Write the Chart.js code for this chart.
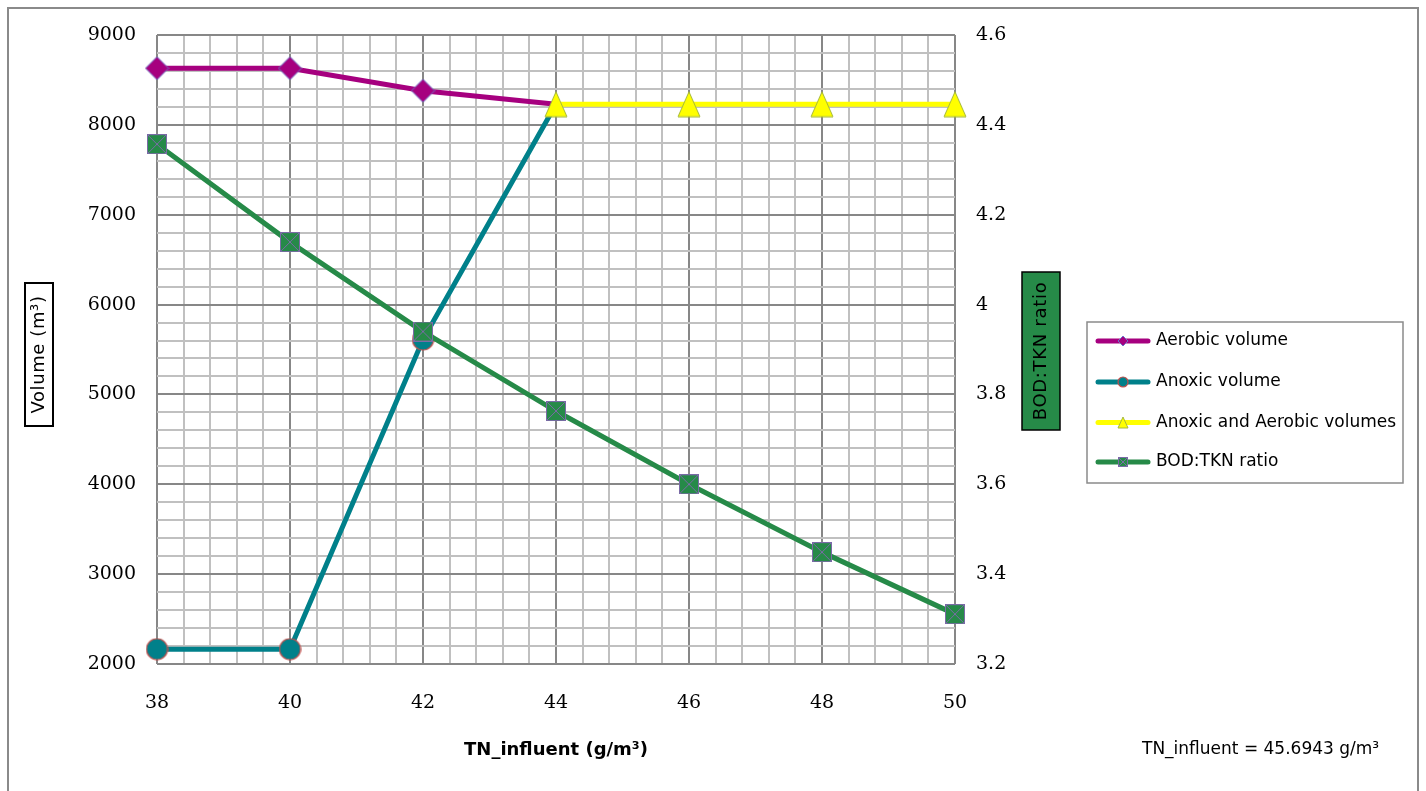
<!DOCTYPE html>
<html>
<head>
<meta charset="utf-8">
<script src="https://cdn.jsdelivr.net/npm/chart.js@4/dist/chart.umd.min.js"></script>
<style>
  html, body { margin: 0; padding: 0; background: #ffffff; overflow: hidden; }
  canvas { display: block; }
</style>
</head>
<body>
<canvas id="chart" width="1426" height="791"></canvas>
<script>
// TN influent concentration (g/m³) on the x axis
const tnInfluent = [38, 40, 42, 44, 46, 48, 50];
// Tank volumes (m³) on the left axis; null where a series is not defined
const aerobicVolume = [8630, 8630, 8380, 8230, null, null, null];
const anoxicVolume = [2165, 2165, 5610, 8230, null, null, null];
const anoxicAerobicVolume = [null, null, null, 8230, 8230, 8230, 8230];
// BOD:TKN ratio on the right axis
const bodTknRatio = [4.357, 4.139, 3.940, 3.763, 3.600, 3.449, 3.311];

const seriesNames = ['Aerobic volume', 'Anoxic volume', 'Anoxic and Aerobic volumes', 'BOD:TKN ratio'];

// Labelled ticks
const xTickLabels = [38, 40, 42, 44, 46, 48, 50];
const volumeTickLabels = [2000, 3000, 4000, 5000, 6000, 7000, 8000, 9000];
const ratioTickLabels = ['3.2', '3.4', '3.6', '3.8', '4', '4.2', '4.4', '4.6'];

const COLORS = {
  aerobic: '#A6007F',
  anoxic: '#00808A',
  both: '#FFFF00',
  ratio: '#268A48',
  gridMajor: '#878787',
  gridMinor: '#c0c0c0'
};

function toPoints(values) {
  const pts = [];
  values.forEach((v, i) => { if (v !== null) pts.push({ x: tnInfluent[i], y: v }); });
  return pts;
}

function makeCanvas(w, h) {
  const c = document.createElement('canvas');
  c.width = w; c.height = h;
  return c;
}

// Marker images
function diamondMarker(r) {
  const s = Math.ceil(2 * r + 2), m = s / 2;
  const c = makeCanvas(s, s), g = c.getContext('2d');
  g.beginPath();
  g.moveTo(m, m - r); g.lineTo(m + r, m); g.lineTo(m, m + r); g.lineTo(m - r, m);
  g.closePath();
  g.fillStyle = COLORS.aerobic; g.fill();
  g.lineWidth = 1; g.strokeStyle = '#6F74C8'; g.stroke();
  return c;
}
function circleMarker(r) {
  const s = Math.ceil(2 * r + 2), m = s / 2;
  const c = makeCanvas(s, s), g = c.getContext('2d');
  g.beginPath(); g.arc(m, m, r, 0, Math.PI * 2);
  g.fillStyle = COLORS.anoxic; g.fill();
  g.lineWidth = 1.2; g.strokeStyle = '#C0504D'; g.stroke();
  return c;
}
function triangleMarker(w, h) {
  const c = makeCanvas(w + 2, h + 2), g = c.getContext('2d');
  g.beginPath();
  g.moveTo(1 + w / 2, 1); g.lineTo(1 + w, 1 + h); g.lineTo(1, 1 + h);
  g.closePath();
  g.fillStyle = COLORS.both; g.fill();
  g.lineWidth = 1; g.strokeStyle = '#A5B83A'; g.stroke();
  return c;
}
function squareXMarker(side) {
  const c = makeCanvas(side + 1, side + 1), g = c.getContext('2d');
  g.fillStyle = COLORS.ratio; g.fillRect(0.5, 0.5, side, side);
  g.strokeStyle = '#7A6BA6'; g.lineWidth = 1;
  g.strokeRect(0.5, 0.5, side, side);
  g.beginPath();
  g.moveTo(0.5, 0.5); g.lineTo(side + 0.5, side + 0.5);
  g.moveTo(side + 0.5, 0.5); g.lineTo(0.5, side + 0.5);
  g.stroke();
  return c;
}

const hideLastMarker = (r) => (ctx) => ctx.dataIndex === ctx.dataset.data.length - 1 ? 0 : r;

const datasets = [
  {
    label: seriesNames[0], data: toPoints(aerobicVolume), yAxisID: 'yVol', order: 4,
    borderColor: COLORS.aerobic, backgroundColor: COLORS.aerobic, borderWidth: 5,
    pointStyle: diamondMarker(11.5), pointRadius: hideLastMarker(12),
    legendMarker: diamondMarker(5)
  },
  {
    label: seriesNames[1], data: toPoints(anoxicVolume), yAxisID: 'yVol', order: 3,
    borderColor: COLORS.anoxic, backgroundColor: COLORS.anoxic, borderWidth: 5,
    pointStyle: circleMarker(10.5), pointRadius: hideLastMarker(11),
    legendMarker: circleMarker(5)
  },
  {
    label: seriesNames[2], data: toPoints(anoxicAerobicVolume), yAxisID: 'yVol', order: 2,
    borderColor: COLORS.both, backgroundColor: COLORS.both, borderWidth: 5,
    pointStyle: triangleMarker(22, 25), pointRadius: 12,
    legendMarker: triangleMarker(10, 11)
  },
  {
    label: seriesNames[3], data: toPoints(bodTknRatio), yAxisID: 'yRatio', order: 1,
    borderColor: COLORS.ratio, backgroundColor: COLORS.ratio, borderWidth: 5,
    pointStyle: squareXMarker(19), pointRadius: 10,
    legendMarker: squareXMarker(9)
  }
];
datasets.forEach(d => { d.clip = false; d.pointHoverRadius = 0; d.tension = 0; d.fill = false; });

const near = (a, b) => Math.abs(a - b) < 1e-6;

const decorations = {
  id: 'decorations',
  afterDraw(chart) {
    const g = chart.ctx;
    g.save();

    // Outer frame
    g.strokeStyle = '#8a8a8a'; g.lineWidth = 2;
    g.strokeRect(8, 8, 1410, 800);

    // Left axis title in a framed box
    g.fillStyle = '#ffffff'; g.fillRect(25, 283, 28, 143);
    g.strokeStyle = '#000000'; g.lineWidth = 2; g.strokeRect(25, 283, 28, 143);
    g.save();
    g.translate(39.5, 354.5); g.rotate(-Math.PI / 2);
    g.fillStyle = '#000000'; g.font = '18px "DejaVu Sans"';
    g.letterSpacing = '0.6px';
    g.textAlign = 'center'; g.textBaseline = 'middle';
    g.fillText('Volume (m³)', 0, 0);
    g.restore();

    // Right axis title on a green box
    g.fillStyle = COLORS.ratio; g.fillRect(1022, 272, 38, 158);
    g.strokeStyle = '#000000'; g.lineWidth = 1.5; g.strokeRect(1022, 272, 38, 158);
    g.save();
    g.translate(1041.5, 351); g.rotate(-Math.PI / 2);
    g.fillStyle = '#000000'; g.font = '18px "DejaVu Sans"';
    g.letterSpacing = '0.7px';
    g.textAlign = 'center'; g.textBaseline = 'middle';
    g.fillText('BOD:TKN ratio', 0, 0);
    g.restore();

    // Legend
    const lx = 1087, ly = 322, lw = 316, lh = 161;
    g.fillStyle = '#ffffff'; g.fillRect(lx, ly, lw, lh);
    g.strokeStyle = '#8a8a8a'; g.lineWidth = 1.5; g.strokeRect(lx, ly, lw, lh);
    const rows = [341, 382, 422.5, 462];
    chart.data.datasets.forEach((ds, i) => {
      const y = rows[i];
      g.strokeStyle = ds.borderColor; g.lineWidth = 5; g.lineCap = 'round';
      g.beginPath(); g.moveTo(1098, y); g.lineTo(1148, y); g.stroke();
      const m = ds.legendMarker;
      g.drawImage(m, Math.round(1123 - m.width / 2), Math.round(y - m.height / 2));
      g.fillStyle = '#000000'; g.font = '17px "DejaVu Sans"';
      g.textAlign = 'left'; g.textBaseline = 'middle';
      g.fillText(ds.label, 1156, y);
    });

    // Current influent value note
    g.fillStyle = '#000000'; g.font = '17px "DejaVu Sans"';
    g.textAlign = 'left'; g.textBaseline = 'alphabetic';
    g.fillText('TN_influent = 45.6943 g/m³', 1142, 754);

    g.restore();
  }
};

new Chart(document.getElementById('chart'), {
  type: 'line',
  data: { datasets },
  options: {
    responsive: false,
    animation: false,
    devicePixelRatio: 1,
    layout: { padding: { top: 35, left: 0, right: 0, bottom: 0 } },
    plugins: { legend: { display: false }, tooltip: { enabled: false } },
    events: [],
    scales: {
      x: {
        type: 'linear', min: 38, max: 50,
        afterFit: (s) => { s.height = 127; },
        ticks: {
          stepSize: 0.4, autoSkip: false, maxRotation: 0, padding: 28,
          color: '#000000', font: { family: 'DejaVu Serif', size: 19 },
          callback: (v) => { const t = xTickLabels.find(l => near(l, v)); return t === undefined ? '' : String(t); }
        },
        grid: {
          drawTicks: false, lineWidth: 2,
          color: (ctx) => xTickLabels.some(l => near(l, ctx.tick.value)) ? COLORS.gridMajor : COLORS.gridMinor
        },
        border: { display: false },
        title: {
          display: true, text: 'TN_influent (g/m³)', color: '#000000',
          font: { family: 'DejaVu Sans', size: 18, weight: 'bold' },
          padding: { top: 0, bottom: 30 }
        }
      },
      yVol: {
        type: 'linear', position: 'left', min: 2000, max: 9000,
        afterFit: (s) => { s.width = 157; },
        ticks: {
          stepSize: 200, autoSkip: false, padding: 21,
          color: '#000000', font: { family: 'DejaVu Serif', size: 19 },
          callback: (v) => { const t = volumeTickLabels.find(l => near(l, v)); return t === undefined ? '' : String(t); }
        },
        grid: {
          drawTicks: false, lineWidth: 2,
          color: (ctx) => volumeTickLabels.some(l => near(l, ctx.tick.value)) ? COLORS.gridMajor : COLORS.gridMinor
        },
        border: { display: false }
      },
      yRatio: {
        type: 'linear', position: 'right', min: 3.2, max: 4.6,
        afterFit: (s) => { s.width = 471; },
        ticks: {
          stepSize: 0.2, autoSkip: false, padding: 21,
          color: '#000000', font: { family: 'DejaVu Serif', size: 19 },
          callback: (v) => { const t = ratioTickLabels.find(l => near(parseFloat(l), v)); return t === undefined ? '' : t; }
        },
        grid: { display: false, drawTicks: false },
        border: { display: false }
      }
    }
  },
  plugins: [decorations]
});
</script>
</body>
</html>
